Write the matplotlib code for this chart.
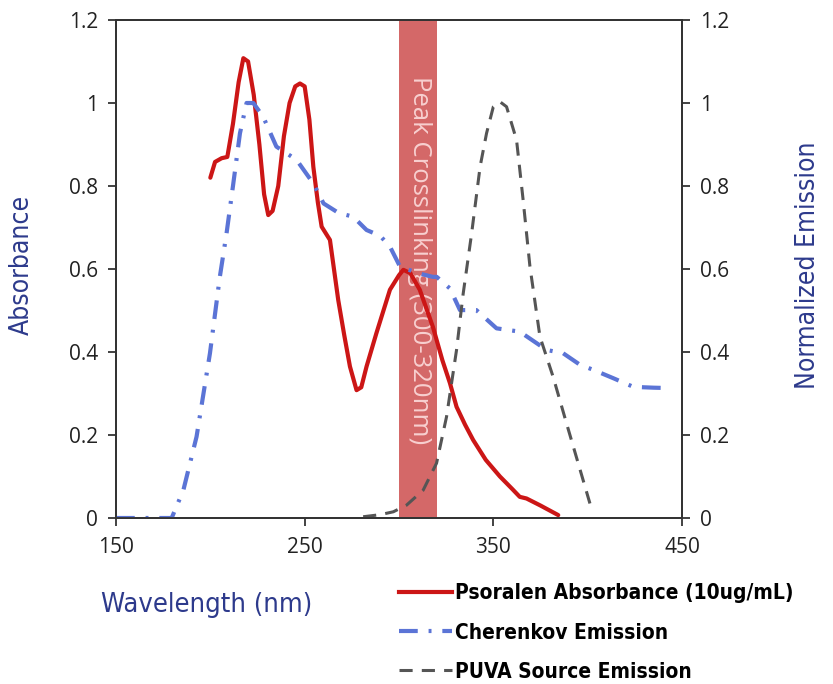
import matplotlib
matplotlib.use("Agg")
import matplotlib.pyplot as plt
from matplotlib.lines import Line2D

# Psoralen absorbance (left axis)
pso_wl = [200, 202.5, 206, 209, 212, 215, 217.5, 220, 223, 226, 228.5, 230.7, 233, 236, 239, 242, 245, 247.5,
          250, 252.5, 254.6, 257, 259, 263.4, 267.8, 271, 274, 277.5, 280, 282.8, 288, 295.2, 300, 302.3,
          306, 311, 318, 323, 327, 330.5, 335, 339.3, 346, 353.5, 360, 364, 367.6, 375, 384.4]
pso_abs = [0.82, 0.858, 0.867, 0.87, 0.95, 1.05, 1.108, 1.10, 1.02, 0.90, 0.78, 0.73, 0.74, 0.80, 0.92, 1.00, 1.04, 1.047,
           1.04, 0.96, 0.846, 0.76, 0.702, 0.67, 0.525, 0.44, 0.365, 0.308, 0.315, 0.365, 0.445, 0.55, 0.585, 0.598,
           0.59, 0.55, 0.46, 0.38, 0.325, 0.268, 0.225, 0.188, 0.14, 0.10, 0.07, 0.051, 0.047, 0.03, 0.007]

# Cherenkov emission (right axis)
cher_wl = [150, 160, 170, 179.5, 185.7, 192.7, 199.8, 205, 208.6, 212, 215.7, 219.2, 222.8, 228, 235, 245.7,
           254.6, 260, 268, 275.7, 282.8, 290, 295.2, 300.5, 310, 318, 320, 327, 332.3, 341, 351.7, 364,
           378.2, 387, 396, 403, 413.5, 424.2, 435, 443.6]
cher_em = [0.0, 0.0, 0.0, 0.0, 0.067, 0.196, 0.397, 0.58, 0.686, 0.80, 0.927, 1.0, 1.0, 0.967, 0.895, 0.863,
           0.806, 0.758, 0.735, 0.726, 0.694, 0.68, 0.654, 0.606, 0.59, 0.581, 0.581, 0.553, 0.501, 0.501, 0.457, 0.449,
           0.405, 0.397, 0.369, 0.357, 0.337, 0.316, 0.314, 0.313]

# PUVA source emission (right axis)
puva_wl = [281, 290, 297, 304, 312.8, 319.9, 325.2, 330.5, 334, 338.5, 343, 346.4, 350, 353.5, 357, 362.3,
           365.8, 369.4, 374.7, 381.7, 388.8, 396, 401.2]
puva_em = [0.003, 0.008, 0.015, 0.031, 0.067, 0.132, 0.244, 0.405, 0.54, 0.686, 0.847, 0.927, 0.991, 1.003, 0.991, 0.911,
           0.766, 0.606, 0.437, 0.34, 0.228, 0.116, 0.035]

band = [300, 320]
band_label = "Peak Crosslinking (300-320nm)"
x_ticks = [150, 250, 350, 450]
y_ticks = [0, 0.2, 0.4, 0.6, 0.8, 1.0, 1.2]
y_tick_labels = ["0", "0.2", "0.4", "0.6", "0.8", "1", "1.2"]

navy = "#2d3a8c"
red = "#cc1616"
blue = "#5b74d6"
gray = "#555555"
cher_ls = (0, (4.5, 2.6, 0.7, 2.6))
puva_ls = (0, (4.3, 3.0))

fig = plt.figure(figsize=(8.33, 6.84), dpi=100)
ax = fig.add_axes([116/833, 1-518/684, (682-116)/833, (518-20)/684])
ax2 = ax.twinx()

ax.axvspan(band[0], band[1], color="#d46868", zorder=0, lw=0)
ax.text((band[0]+band[1])/2 + 1, 1.065, band_label, rotation=-90, ha="center", va="top",
        color="#f8d0d0", fontsize=18.5, family="Open Sans", zorder=1)

ax.plot(pso_wl, pso_abs, color=red, lw=3, zorder=3, solid_capstyle="round")
ax2.plot(cher_wl, cher_em, color=blue, lw=3, ls=cher_ls, zorder=2)
ax2.plot(puva_wl, puva_em, color=gray, lw=2.2, ls=puva_ls, zorder=2)

for a in (ax, ax2):
    a.set_xlim(150, 450)
    a.set_ylim(0, 1.2)
    a.set_yticks(y_ticks)
    a.set_yticklabels(y_tick_labels)
    a.tick_params(direction="out", length=6, width=1.2, labelsize=15, colors="#222222", pad=7)
    for s in a.spines.values():
        s.set_color("#333333")
        s.set_linewidth(1.3)
    for lab in a.get_yticklabels() + a.get_xticklabels():
        lab.set_family("Open Sans")
ax.set_xticks(x_ticks)
for lab in ax.get_xticklabels():
    lab.set_family("Open Sans")
ax.tick_params(axis="x", pad=8)
ax.patch.set_alpha(0)

fig.text(22/833, 1-265/684, "Absorbance", rotation=90, ha="center", va="center",
         color=navy, fontsize=19, family="DejaVu Sans", fontstretch="condensed")
fig.text(808/833, 1-265/684, "Normalized Emission", rotation=90, ha="center", va="center",
         color=navy, fontsize=19, family="DejaVu Sans", fontstretch="condensed")
fig.text(207/833, 1-605/684, "Wavelength (nm)", ha="center", va="center",
         color=navy, fontsize=19.5, family="DejaVu Sans", fontstretch="condensed")

handles = [Line2D([], [], color=red, lw=3),
           Line2D([], [], color=blue, lw=3, ls=cher_ls),
           Line2D([], [], color=gray, lw=2.2, ls=puva_ls)]
labels = ["Psoralen Absorbance (10ug/mL)", "Cherenkov Emission", "PUVA Source Emission"]
fig.legend(handles, labels, loc="upper left", bbox_to_anchor=(389/833, 1-573/684), frameon=False,
           prop={"weight": "bold", "size": 15, "family": "DejaVu Sans", "stretch": "condensed"},
           handlelength=2.5, handletextpad=0.15, labelspacing=0.92, borderpad=0)

fig.savefig("out.png", dpi=100)
